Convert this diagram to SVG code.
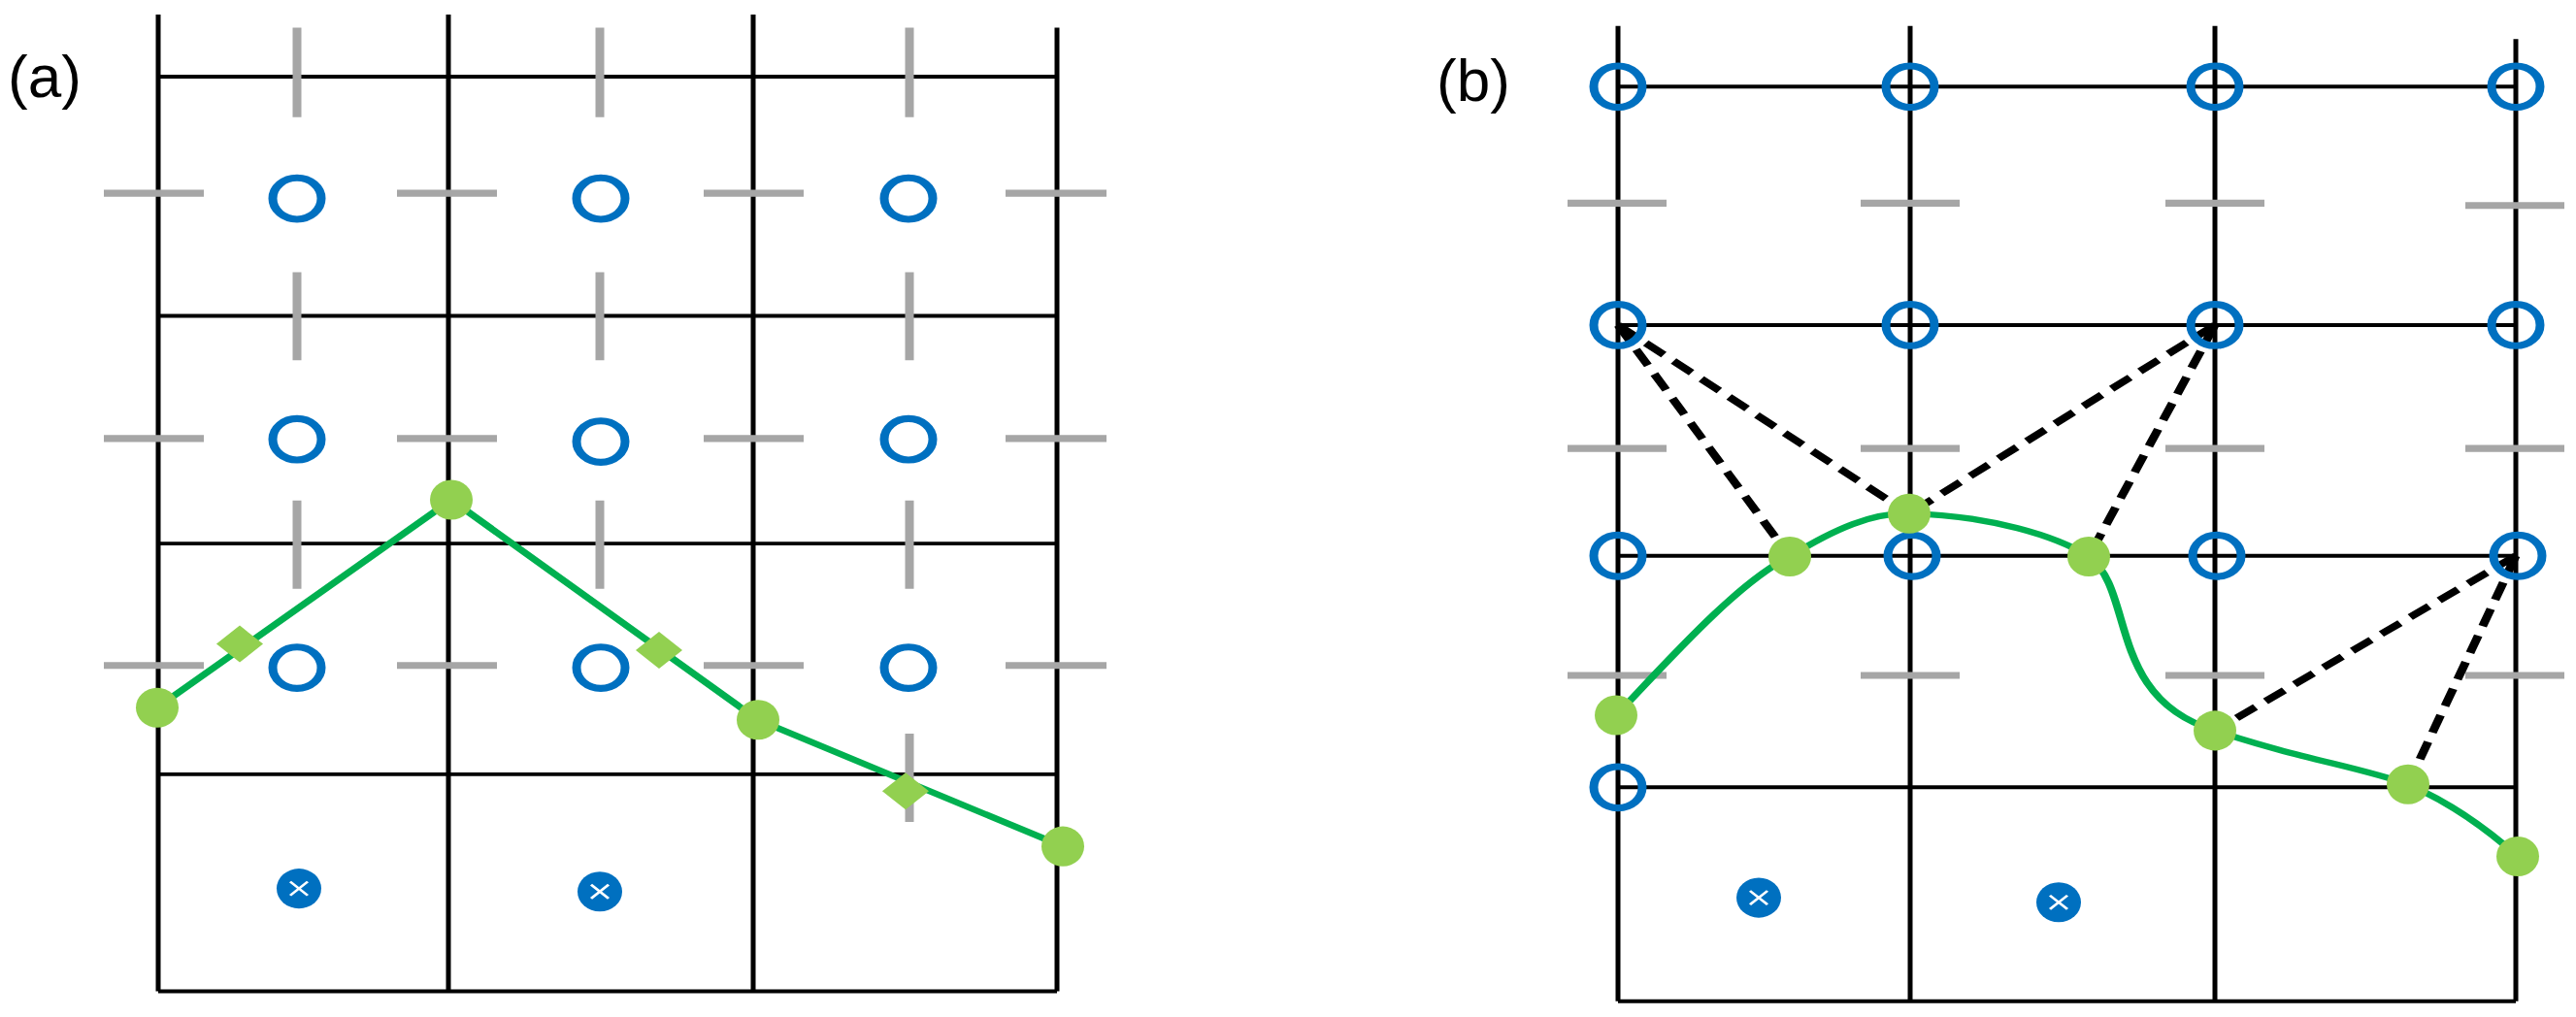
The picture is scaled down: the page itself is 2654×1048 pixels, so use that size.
<svg xmlns="http://www.w3.org/2000/svg" width="2654" height="1048" viewBox="0 0 2654 1048">
<style>
.g{stroke:#000;stroke-width:5;fill:none}
.t{stroke:#a6a6a6;stroke-width:9}
.o{fill:none;stroke:#0070c0;stroke-width:9}
.x{fill:#0070c0}
.xl{stroke:#fff;stroke-width:3}
.gl{fill:none;stroke:#00b050;stroke-width:8}
.p{fill:#92d050}
.d{stroke:#000;stroke-width:9;stroke-dasharray:24 13}
.lb{font-family:'Liberation Sans',Arial,sans-serif;font-size:62px;fill:#000}
</style>
<defs>
<g id="cx"><ellipse rx="23" ry="26" class="x"/><path d="M-9,-9L9,9M9,-9L-9,9" class="xl"/></g>
<ellipse id="oc" rx="25" ry="27" class="o"/>
<ellipse id="gp" rx="22" ry="26" class="p"/>
</defs>
<rect width="2654" height="1048" fill="#fff"/>
<text class="lb" x="8" y="100">(a)</text>
<text class="lb" x="1480" y="104">(b)</text>
<g transform="scale(1,0.79)">
<g id="gridA">
<path class="g" d="M163,19V1293M462,19V1293M776,19V1293M1089,36V1293M163,100H1089M163,412H1089M163,709H1089M163,1010H1089M163,1293H1089"/>
<path class="t" d="M107,252H210M409,252H512M725,252H828M1036,252H1140M107,572H210M409,572H512M725,572H828M1036,572H1140M107,868H210M409,868H512M725,868H828M1036,868H1140"/>
<path class="t" d="M306,36V153M618,36V153M937,36V153M306,355V470M618,355V470M937,355V470M306,653V768M618,653V768M937,653V768M937,957V1072"/>
</g>
<g id="nodesA">
<use href="#oc" x="306" y="259"/><use href="#oc" x="619" y="259"/><use href="#oc" x="936" y="259"/>
<use href="#oc" x="306" y="573"/><use href="#oc" x="619" y="576"/><use href="#oc" x="936" y="573"/>
<use href="#oc" x="306" y="871"/><use href="#oc" x="619" y="871"/><use href="#oc" x="936" y="871"/>
<use href="#cx" x="308" y="1159"/><use href="#cx" x="618" y="1163"/>
</g>
<g id="curveA">
<path class="gl" d="M162,923L465,652L781,939L1095,1104"/>
<use href="#gp" x="162" y="923"/><use href="#gp" x="465" y="652"/><use href="#gp" x="781" y="939"/><use href="#gp" x="1095" y="1104"/>
<rect class="p" x="-17" y="-17" width="34" height="34" transform="translate(247,840) rotate(45)"/>
<rect class="p" x="-17" y="-17" width="34" height="34" transform="translate(679,848) rotate(45)"/>
<rect class="p" x="-17" y="-17" width="34" height="34" transform="translate(933,1032) rotate(45)"/>
</g>
<g id="gridB">
<path class="g" d="M1667,34V1306M1968,34V1306M2282,34V1306M2592,51V1306M1667,113H2592M1667,424H2592M1667,725H2592M1667,1027H2592M1667,1306H2592"/>
<path class="t" d="M1615,265H1717M1917,265H2019M2231,265H2333M2540,268H2642M1615,585H1717M1917,585H2019M2231,585H2333M2540,585H2642M1615,881H1717M1917,881H2019M2231,881H2333M2540,881H2642"/>
</g>
<g id="connectors">
<path class="d" d="M1667,424L1844,726M1667,424L1967,670M2282,424L1967,670M2282,424L2152,726M2592,725L2282,953M2592,725L2481,1023"/>
</g>
<g id="nodesB">
<use href="#oc" x="1667" y="113"/><use href="#oc" x="1968" y="113"/><use href="#oc" x="2282" y="113"/><use href="#oc" x="2592" y="113"/>
<use href="#oc" x="1667" y="424"/><use href="#oc" x="1968" y="424"/><use href="#oc" x="2282" y="424"/><use href="#oc" x="2592" y="424"/>
<use href="#oc" x="1667" y="725"/><use href="#oc" x="1970" y="725"/><use href="#oc" x="2284" y="725"/><use href="#oc" x="2594" y="725"/>
<use href="#oc" x="1667" y="1027"/>
<use href="#cx" x="1812" y="1171"/><use href="#cx" x="2121" y="1177"/>
</g>
<g id="curveB">
<path class="gl" d="M1665,933C1720,860 1790,760 1844,726C1890,690 1930,668 1967,670C2050,672 2120,700 2152,726C2200,770 2170,910 2282,953C2370,990 2430,1000 2481,1023C2530,1050 2570,1090 2594,1117"/>
<use href="#gp" x="1665" y="933"/><use href="#gp" x="1844" y="726"/><use href="#gp" x="1967" y="670"/><use href="#gp" x="2152" y="726"/><use href="#gp" x="2282" y="953"/><use href="#gp" x="2481" y="1023"/><use href="#gp" x="2594" y="1117"/>
</g>
</g>
</svg>
